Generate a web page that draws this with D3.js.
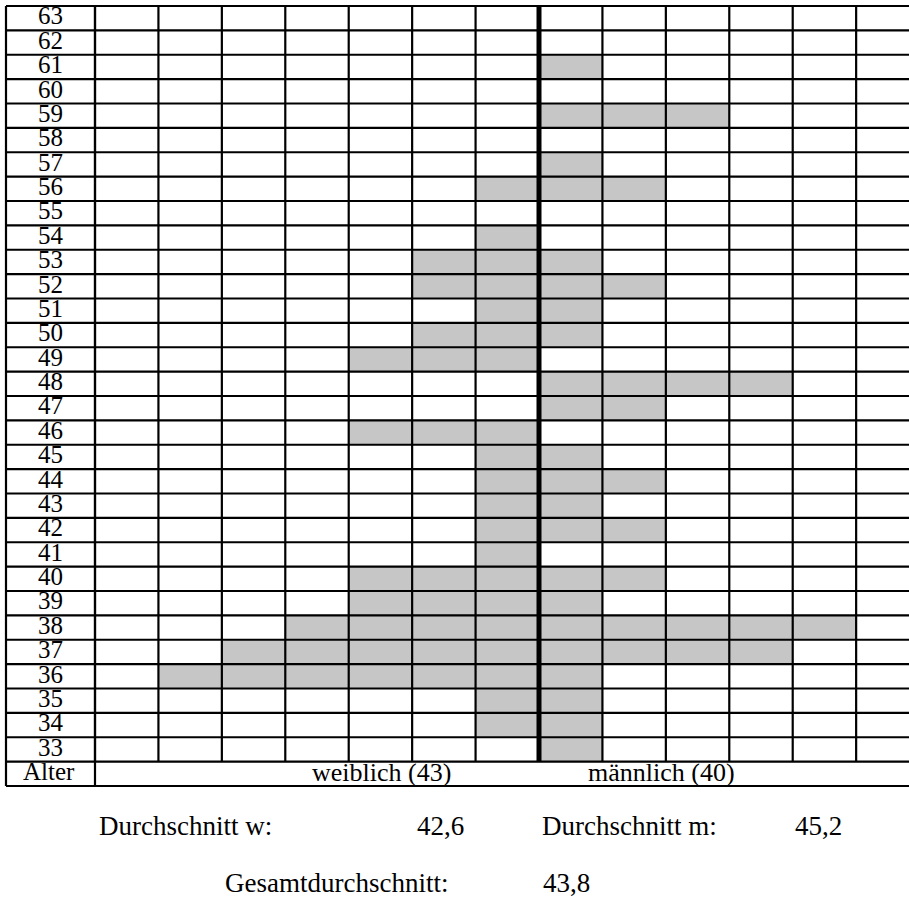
<!DOCTYPE html>
<html>
<head>
<meta charset="utf-8">
<script src="https://cdnjs.cloudflare.com/ajax/libs/d3/7.8.5/d3.min.js"></script>
<style>
  html, body { margin: 0; padding: 0; background: #fff; }
  svg { display: block; }
  text { font-family: "Liberation Serif", "Times New Roman", serif; fill: #000; }
</style>
</head>
<body>
<svg width="909" height="901"></svg>
<script>
// ages from top row to bottom row
var ages = d3.range(63, 32, -1);
// number of women / men per age, same order as ages
var weiblich = [0,0,0,0,0,0,0,1,0,1,2,2,1,2,3,0,0,3,1,1,1,1,1,3,3,4,5,6,1,1,0];
var maennlich = [0,0,1,0,3,0,1,2,0,0,1,2,1,1,0,4,2,0,1,2,1,2,0,2,1,5,4,1,1,1,1];
var colsW = 7, colsM = 6;
var labels = ['weiblich (43)', 'männlich (40)'];
var stats = [
  {label: 'Durchschnitt w:', value: '42,6'},
  {label: 'Durchschnitt m:', value: '45,2'},
  {label: 'Gesamtdurchschnitt:', value: '43,8'}
];

(function () {
  var svg = d3.select('svg');
  var gridTop = 6, rowH = 24.375, left = 6, labelW = 95, mid = 539;
  var gridBottom = gridTop + ages.length * rowH;
  var bottom = gridBottom + rowH;

  var y = d3.scaleBand().domain(ages).range([gridTop, gridBottom]);
  var xW = d3.scaleLinear().domain([0, colsW]).range([mid, labelW]);
  var cw = (mid - labelW) / colsW;
  var xM = d3.scaleLinear().domain([0, colsM]).range([mid, mid + colsM * cw]);

  var rows = ages.map(function (a, i) { return {age: a, w: weiblich[i], m: maennlich[i]}; });

  // grey cells
  svg.append('g').selectAll('rect')
     .data(rows.filter(function (d) { return d.w > 0; }))
     .enter().append('rect')
     .attr('x', function (d) { return xW(d.w); })
     .attr('y', function (d) { return y(d.age); })
     .attr('width', function (d) { return xW(0) - xW(d.w); })
     .attr('height', y.bandwidth())
     .style('fill', '#c6c6c6');
  svg.append('g').selectAll('rect')
     .data(rows.filter(function (d) { return d.m > 0; }))
     .enter().append('rect')
     .attr('x', xM(0))
     .attr('y', function (d) { return y(d.age); })
     .attr('width', function (d) { return xM(d.m) - xM(0); })
     .attr('height', y.bandwidth())
     .style('fill', '#c6c6c6');

  var lines = svg.append('g').attr('stroke', '#000').attr('stroke-width', 2.2);
  // horizontal lines
  var hy = ages.map(function (a) { return y(a); }).concat([gridBottom, bottom]);
  lines.selectAll('line.h').data(hy).enter().append('line').attr('class', 'h')
     .attr('x1', left).attr('x2', 909)
     .attr('y1', function (d) { return d; }).attr('y2', function (d) { return d; });
  // vertical lines of the grid
  var vx = d3.range(1, colsW + 1).map(function (i) { return xW(i); })
     .concat(d3.range(1, colsM + 1).map(function (i) { return xM(i); }));
  lines.selectAll('line.v').data(vx).enter().append('line').attr('class', 'v')
     .attr('x1', function (d) { return d; }).attr('x2', function (d) { return d; })
     .attr('y1', gridTop).attr('y2', gridBottom);
  lines.selectAll('line.b').data([left, labelW]).enter().append('line').attr('class', 'b')
     .attr('x1', function (d) { return d; }).attr('x2', function (d) { return d; })
     .attr('y1', gridTop).attr('y2', bottom);
  svg.append('line')
     .attr('x1', mid).attr('x2', mid).attr('y1', gridTop).attr('y2', gridBottom)
     .attr('stroke', '#000').attr('stroke-width', 5);

  // age labels
  svg.append('g').selectAll('text').data(ages).enter().append('text')
     .attr('x', (left + labelW) / 2)
     .attr('y', function (d) { return y(d) + rowH - 6; })
     .attr('text-anchor', 'middle')
     .style('font-size', '25px')
     .text(function (d) { return d; });

  svg.append('text').attr('x', 23).attr('y', bottom - 6)
     .style('font-size', '25px').text('Alter');
  svg.selectAll('text.sex').data(labels).enter().append('text')
     .attr('class', 'sex')
     .attr('x', function (d, i) { return [312, 588][i]; })
     .attr('y', bottom - 5)
     .style('font-size', '26px')
     .text(function (d) { return d; });

  // averages
  var pos = [
    {lx: 99, vx: 417, y: 835},
    {lx: 542, vx: 795, y: 835},
    {lx: 225, vx: 543, y: 892}
  ];
  stats.forEach(function (s, i) {
    svg.append('text').attr('x', pos[i].lx).attr('y', pos[i].y)
       .style('font-size', '27px').text(s.label);
    svg.append('text').attr('x', pos[i].vx).attr('y', pos[i].y)
       .style('font-size', '27px').text(s.value);
  });
})();
</script>
</body>
</html>
